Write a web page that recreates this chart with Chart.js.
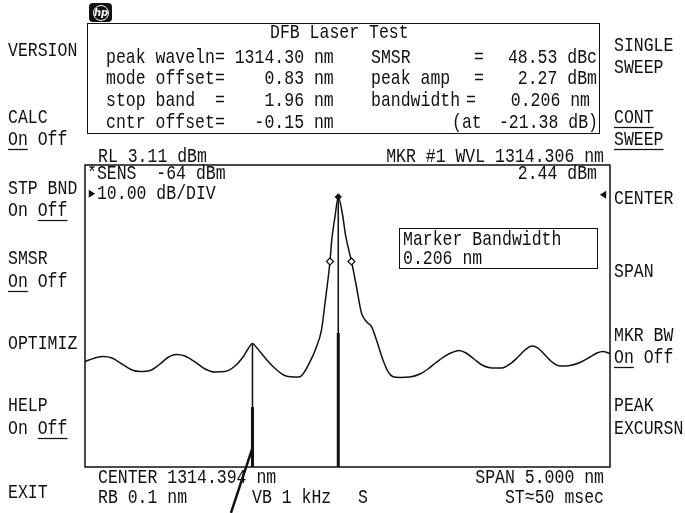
<!DOCTYPE html>
<html>
<head>
<meta charset="utf-8">
<script src="https://cdn.jsdelivr.net/npm/chart.js@4.4.1/dist/chart.umd.min.js"></script>
<style>
  body { margin: 0; background: #fff; }
  #wrap { position: relative; width: 685px; height: 513px; overflow: hidden; background: #fff; }
  canvas { position: absolute; left: 0; top: 0; }
  .t { position: absolute; font: 16.5px "Liberation Mono", monospace; line-height: 17px; white-space: pre; color: #111; transform: scaleY(1.25); }
  .u { text-decoration: underline; text-decoration-thickness: 1.2px; text-underline-offset: 3px; }
  .box { position: absolute; border: 1.5px solid #111; box-sizing: border-box; }
  #logo { position: absolute; left: 89px; top: 3px; width: 23px; height: 19px; background: #111; border-radius: 4px; }
  #logo span { position: absolute; left: 4px; top: 2px; width: 14px; height: 14px; border: 1.3px solid #fff; border-radius: 50%;
    color: #fff; font: italic bold 10px "DejaVu Sans", sans-serif; line-height: 14px; text-align: center; }
</style>
</head>
<body>
<div id="wrap">
  <canvas id="osa" width="685" height="513"></canvas>
  <div id="logo"><span>hp</span></div>
  <div class="box" style="left:87px;top:23px;width:513px;height:111px"></div>
  <div class="box" style="left:399px;top:228px;width:199px;height:41px"></div>
</div>
<script>
// span 5 nm around 1314.394 nm, 10 dB/div
const xMin = 1311.894;
const xMax = 1316.894;
const yMin = -87;
const yMax = 13;

// trace
const wavelength = [
  1311.894, 1311.989, 1312.065, 1312.151, 1312.246, 1312.342, 1312.418, 1312.513, 1312.608, 1312.684,
  1312.761, 1312.846, 1312.942, 1313.037, 1313.132, 1313.227, 1313.323, 1313.399, 1313.446, 1313.489,
  1313.532, 1313.561, 1313.684, 1313.808, 1313.913, 1313.942, 1314.037, 1314.099, 1314.146, 1314.180,
  1314.227, 1314.244, 1314.275, 1314.306, 1314.344, 1314.378, 1314.432, 1314.480, 1314.527, 1314.575,
  1314.623, 1314.670, 1314.732, 1314.780, 1314.827, 1314.894, 1314.989, 1315.084, 1315.161, 1315.237,
  1315.323, 1315.389, 1315.456, 1315.523, 1315.599, 1315.675, 1315.751, 1315.865, 1315.942, 1316.018,
  1316.084, 1316.151, 1316.208, 1316.275, 1316.342, 1316.418, 1316.513, 1316.608, 1316.704, 1316.770,
  1316.827, 1316.894
];
const power = [
  -52.07, -50.91, -50.41, -50.91, -52.89, -54.88, -55.38, -55.05, -52.89, -50.74,
  -49.75, -50.25, -52.23, -54.55, -55.54, -55.38, -53.56, -50.58, -47.93, -46.09,
  -47.60, -48.84, -53.72, -56.87, -57.20, -57.09, -52.13, -47.17, -41.64, -32.70,
  -18.94, -11.83, -4.12, 2.44, -2.89, -10.74, -18.94, -27.40, -36.01, -38.89,
  -40.54, -44.95, -51.57, -55.44, -57.10, -57.36, -57.20, -56.21, -54.55, -52.40,
  -50.25, -49.09, -48.42, -49.25, -51.24, -53.23, -54.12, -54.22, -52.89, -50.58,
  -48.26, -46.93, -47.60, -49.91, -52.23, -53.56, -53.39, -52.40, -50.58, -49.25,
  -48.76, -49.42
];

// side mode and main mode sticks
const stickWl = [1313.489, 1314.306];
const stickTop = [-46.09, 2.44];
const stickBoldTop = [-67.1, -42.6];

// -21.38 dB bandwidth markers
const bwWl = [1314.227, 1314.432];
const bwDbm = [-18.94, -18.94];

// pen stroke running off the bottom
const penWl = [1313.489, 1313.284];
const penDbm = [-80.7, -102.2];

const labels = [
  // left soft keys
  ["VERSION", 8, 50], ["CALC", 8, 117], ['<span class="u">On</span> Off', 8, 139],
  ["STP BND", 8, 188], ['On <span class="u">Off</span>', 8, 210],
  ["SMSR", 8, 258], ['<span class="u">On</span> Off', 8, 281],
  ["OPTIMIZ", 8, 343], ["HELP", 8, 405], ['On <span class="u">Off</span>', 8, 428], ["EXIT", 8, 492],
  // right soft keys
  ["SINGLE", 614, 45], ["SWEEP", 614, 67], ['<span class="u">CONT</span>', 614, 117], ['<span class="u">SWEEP</span>', 614, 139],
  ["CENTER", 614, 198], ["SPAN", 614, 271], ["MKR BW", 614, 335], ['<span class="u">On</span> Off', 614, 357],
  ["PEAK", 614, 405], ["EXCURSN", 614, 428],
  // test box
  ["peak waveln= 1314.30 nm", 106, 57], ["mode offset=    0.83 nm", 106, 78],
  ["stop band  =    1.96 nm", 106, 100], ["cntr offset=   -0.15 nm", 106, 122],
  ["SMSR", 371, 57], ["=", 474, 57], ["peak amp", 371, 78], ["=", 474, 78],
  ["bandwidth", 371, 100], ["=", 466, 100], ["(at", 452, 122],
  // screen annotations
  ["RL 3.11 dBm", 98, 156], ["*SENS  -64 dBm", 87, 173], ["\u25B810.00 dB/DIV", 87, 193],
  ["Marker Bandwidth", 403, 239], ["0.206 nm", 403, 258],
  ["CENTER 1314.394 nm", 98, 477], ["RB 0.1 nm", 98, 497], ["VB 1 kHz", 252, 497], ["S", 358, 497]
];
const rightLabels = [
  ["48.53 dBc", 597, 57], ["2.27 dBm", 597, 78], ["0.206 nm", 590, 100], ["-21.38 dB)", 598, 122],
  ["MKR #1 WVL 1314.306 nm", 604, 156], ["2.44 dBm", 597, 173], ["\u25C2", 608, 194],
  ["SPAN 5.000 nm", 604, 477], ["ST\u224850 msec", 604, 497]
];

const wrap = document.getElementById("wrap");
function addLabel(html, x, y, right) {
  const d = document.createElement("div");
  d.className = "t";
  d.innerHTML = html;
  d.style.top = (y - 8) + "px";
  if (right) d.style.right = (685 - x) + "px"; else d.style.left = x + "px";
  wrap.appendChild(d);
}
labels.forEach(l => addLabel(l[0], l[1], l[2], false));
rightLabels.forEach(l => addLabel(l[0], l[1], l[2], true));
addLabel("DFB Laser Test", 270, 32, false);

const frame = {
  id: "frame",
  beforeDatasetsDraw(chart) {
    const { ctx, chartArea: a } = chart;
    ctx.save();
    ctx.strokeStyle = "#111";
    ctx.lineWidth = 1.5;
    ctx.strokeRect(a.left, a.top, a.right - a.left, a.bottom - a.top);
    ctx.restore();
  }
};

function seg(x0, y0, x1, y1) { return [{ x: x0, y: y0 }, { x: x1, y: y1 }]; }
const line = (data, w) => ({ data, borderColor: "#111", borderWidth: w, pointRadius: 0, showLine: true, clip: false });

new Chart(document.getElementById("osa"), {
  type: "scatter",
  data: {
    datasets: [
      { data: bwWl.map((x, i) => ({ x, y: bwDbm[i] })), pointStyle: "rectRot", pointRadius: 3.5,
        pointBackgroundColor: "#fff", pointBorderColor: "#111", pointBorderWidth: 1.2, showLine: false },
      { data: [{ x: stickWl[1], y: stickTop[1] }], pointStyle: "rectRot", pointRadius: 3.2,
        pointBackgroundColor: "#111", pointBorderColor: "#111", showLine: false },
      { ...line(wavelength.map((x, i) => ({ x, y: power[i] })), 1.5), cubicInterpolationMode: "monotone" },
      line(seg(stickWl[0], stickTop[0], stickWl[0], yMin), 1.5),
      line(seg(stickWl[0], stickBoldTop[0], stickWl[0], yMin), 3),
      line(seg(stickWl[1], stickTop[1], stickWl[1], yMin), 1.5),
      line(seg(stickWl[1], stickBoldTop[1], stickWl[1], yMin), 3),
      line(seg(penWl[0], penDbm[0], penWl[1], penDbm[1]), 2.5)
    ]
  },
  options: {
    responsive: false,
    animation: false,
    layout: { padding: { left: 85, right: 75, top: 165, bottom: 46 } },
    scales: {
      x: { type: "linear", min: xMin, max: xMax, display: false },
      y: { min: yMin, max: yMax, display: false }
    },
    plugins: { legend: { display: false }, tooltip: { enabled: false } }
  },
  plugins: [frame]
});
</script>
</body>
</html>
